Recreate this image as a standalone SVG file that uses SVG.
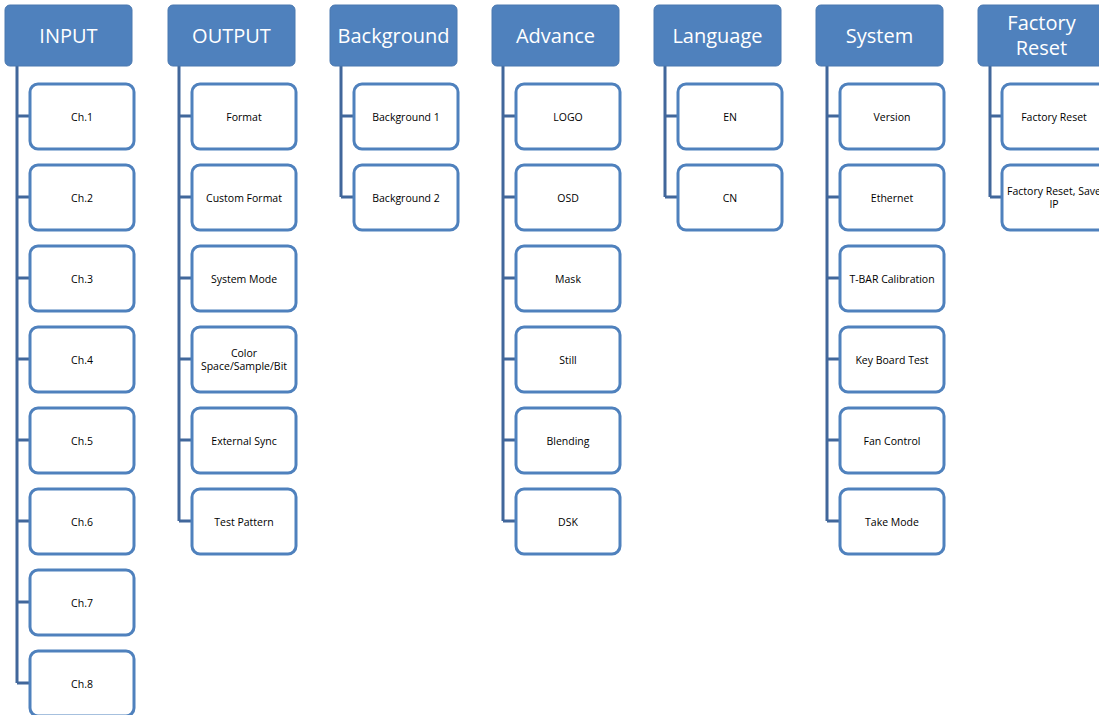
<svg xmlns="http://www.w3.org/2000/svg" width="1099" height="715" viewBox="0 0 1099 715">
<style>
.hdr{fill:#4f81bd;stroke:#4a78b0;stroke-width:1}
.ht{fill:#fff;font-family:"Open Sans","Liberation Sans",sans-serif;font-size:20px;text-anchor:middle;dominant-baseline:central}
.box{fill:#fff;stroke:#4f81bd;stroke-width:3}
.bt{fill:#000;font-family:"Open Sans","Liberation Sans",sans-serif;font-size:10.5px;text-anchor:middle;dominant-baseline:central}
.con{fill:none;stroke:#41679b;stroke-width:3}
</style>
<rect width="1099" height="715" fill="#fff"/>
<g id="connectors" class="con">
<path d="M17,66V683M17,116H30M17,197H30M17,278H30M17,359H30M17,440H30M17,521H30M17,602H30M17,683H30"/>
<path d="M179,66V521M179,116H192M179,197H192M179,278H192M179,359H192M179,440H192M179,521H192"/>
<path d="M341,66V197M341,116H354M341,197H354"/>
<path d="M503,66V521M503,116H516M503,197H516M503,278H516M503,359H516M503,440H516M503,521H516"/>
<path d="M665,66V197M665,116H678M665,197H678"/>
<path d="M827,66V521M827,116H840M827,197H840M827,278H840M827,359H840M827,440H840M827,521H840"/>
<path d="M990,66V197M990,116H1003M990,197H1003"/>
</g>
<g id="h-input"><rect class="hdr" x="5" y="5" width="127" height="61" rx="5"/><text class="ht" x="68.5" y="35">INPUT</text></g>
<g id="h-output"><rect class="hdr" x="168" y="5" width="127" height="61" rx="5"/><text class="ht" x="231.5" y="35">OUTPUT</text></g>
<g id="h-background"><rect class="hdr" x="330" y="5" width="127" height="61" rx="5"/><text class="ht" x="393.5" y="35">Background</text></g>
<g id="h-advance"><rect class="hdr" x="492" y="5" width="127" height="61" rx="5"/><text class="ht" x="555.5" y="35">Advance</text></g>
<g id="h-language"><rect class="hdr" x="654" y="5" width="127" height="61" rx="5"/><text class="ht" x="717.5" y="35">Language</text></g>
<g id="h-system"><rect class="hdr" x="816" y="5" width="127" height="61" rx="5"/><text class="ht" x="879.5" y="35">System</text></g>
<g id="h-factory"><rect class="hdr" x="978" y="5" width="127" height="61" rx="5"/><text class="ht" x="1041.5" y="22">Factory</text><text class="ht" x="1041.5" y="47">Reset</text></g>

<g id="in1"><rect class="box" x="30" y="84" width="104" height="65" rx="8"/><text class="bt" x="82" y="116.5">Ch.1</text></g>
<g id="in2"><rect class="box" x="30" y="165" width="104" height="65" rx="8"/><text class="bt" x="82" y="197.5">Ch.2</text></g>
<g id="in3"><rect class="box" x="30" y="246" width="104" height="65" rx="8"/><text class="bt" x="82" y="278.5">Ch.3</text></g>
<g id="in4"><rect class="box" x="30" y="327" width="104" height="65" rx="8"/><text class="bt" x="82" y="359.5">Ch.4</text></g>
<g id="in5"><rect class="box" x="30" y="408" width="104" height="65" rx="8"/><text class="bt" x="82" y="440.5">Ch.5</text></g>
<g id="in6"><rect class="box" x="30" y="489" width="104" height="65" rx="8"/><text class="bt" x="82" y="521.5">Ch.6</text></g>
<g id="in7"><rect class="box" x="30" y="570" width="104" height="65" rx="8"/><text class="bt" x="82" y="602.5">Ch.7</text></g>
<g id="in8"><rect class="box" x="30" y="651" width="104" height="65" rx="8"/><text class="bt" x="82" y="683.5">Ch.8</text></g>

<g id="out1"><rect class="box" x="192" y="84" width="104" height="65" rx="8"/><text class="bt" x="244" y="116.5">Format</text></g>
<g id="out2"><rect class="box" x="192" y="165" width="104" height="65" rx="8"/><text class="bt" x="244" y="197.5">Custom Format</text></g>
<g id="out3"><rect class="box" x="192" y="246" width="104" height="65" rx="8"/><text class="bt" x="244" y="278.5">System Mode</text></g>
<g id="out4"><rect class="box" x="192" y="327" width="104" height="65" rx="8"/><text class="bt" x="244" y="353">Color</text><text class="bt" x="244" y="366">Space/Sample/Bit</text></g>
<g id="out5"><rect class="box" x="192" y="408" width="104" height="65" rx="8"/><text class="bt" x="244" y="440.5">External Sync</text></g>
<g id="out6"><rect class="box" x="192" y="489" width="104" height="65" rx="8"/><text class="bt" x="244" y="521.5">Test Pattern</text></g>

<g id="bg1"><rect class="box" x="354" y="84" width="104" height="65" rx="8"/><text class="bt" x="406" y="116.5">Background 1</text></g>
<g id="bg2"><rect class="box" x="354" y="165" width="104" height="65" rx="8"/><text class="bt" x="406" y="197.5">Background 2</text></g>

<g id="adv1"><rect class="box" x="516" y="84" width="104" height="65" rx="8"/><text class="bt" x="568" y="116.5">LOGO</text></g>
<g id="adv2"><rect class="box" x="516" y="165" width="104" height="65" rx="8"/><text class="bt" x="568" y="197.5">OSD</text></g>
<g id="adv3"><rect class="box" x="516" y="246" width="104" height="65" rx="8"/><text class="bt" x="568" y="278.5">Mask</text></g>
<g id="adv4"><rect class="box" x="516" y="327" width="104" height="65" rx="8"/><text class="bt" x="568" y="359.5">Still</text></g>
<g id="adv5"><rect class="box" x="516" y="408" width="104" height="65" rx="8"/><text class="bt" x="568" y="440.5">Blending</text></g>
<g id="adv6"><rect class="box" x="516" y="489" width="104" height="65" rx="8"/><text class="bt" x="568" y="521.5">DSK</text></g>

<g id="lang1"><rect class="box" x="678" y="84" width="104" height="65" rx="8"/><text class="bt" x="730" y="116.5">EN</text></g>
<g id="lang2"><rect class="box" x="678" y="165" width="104" height="65" rx="8"/><text class="bt" x="730" y="197.5">CN</text></g>

<g id="sys1"><rect class="box" x="840" y="84" width="104" height="65" rx="8"/><text class="bt" x="892" y="116.5">Version</text></g>
<g id="sys2"><rect class="box" x="840" y="165" width="104" height="65" rx="8"/><text class="bt" x="892" y="197.5">Ethernet</text></g>
<g id="sys3"><rect class="box" x="840" y="246" width="104" height="65" rx="8"/><text class="bt" x="892" y="278.5">T-BAR Calibration</text></g>
<g id="sys4"><rect class="box" x="840" y="327" width="104" height="65" rx="8"/><text class="bt" x="892" y="359.5">Key Board Test</text></g>
<g id="sys5"><rect class="box" x="840" y="408" width="104" height="65" rx="8"/><text class="bt" x="892" y="440.5">Fan Control</text></g>
<g id="sys6"><rect class="box" x="840" y="489" width="104" height="65" rx="8"/><text class="bt" x="892" y="521.5">Take Mode</text></g>

<g id="fr1"><rect class="box" x="1002" y="84" width="104" height="65" rx="8"/><text class="bt" x="1054" y="116.5">Factory Reset</text></g>
<g id="fr2"><rect class="box" x="1002" y="165" width="104" height="65" rx="8"/><text class="bt" x="1054" y="190.5">Factory Reset, Save</text><text class="bt" x="1054" y="203.5">IP</text></g>
</svg>
